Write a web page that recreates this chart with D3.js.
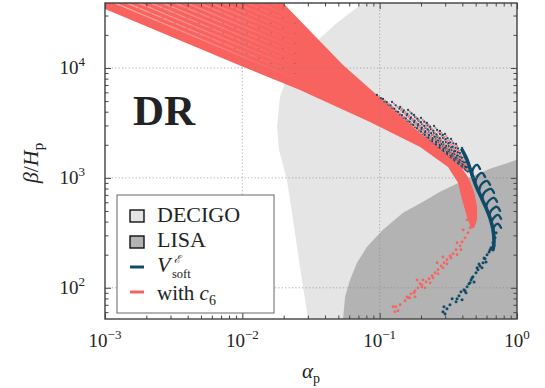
<!DOCTYPE html>
<html>
<head>
<meta charset="utf-8">
<script src="https://cdn.jsdelivr.net/npm/d3@7"></script>
<style>
  html, body { margin: 0; padding: 0; background: #fff; }
  svg { display: block; font-family: "Liberation Serif", "DejaVu Serif", serif; }
</style>
</head>
<body>
<svg id="chart" width="545" height="388"></svg>
<script>
// axis ticks
const alphaMajor = [1e-3, 1e-2, 1e-1, 1];
const alphaExp = ['\u22123', '\u22122', '\u22121', '0'];
const betaMajor = [1e2, 1e3, 1e4];
const betaExp = ['2', '3', '4'];

// detector sensitivity regions (alpha_p, beta/H_p)
const decigoRegion = [[0.085, 60000], [0.0782, 38970], [0.0720, 37400], [0.0489, 25600], [0.0311, 15500],
  [0.0222, 9590], [0.0188, 5450], [0.0179, 2910], [0.0185, 1800], [0.0198, 1310], [0.0211, 959],
  [0.0230, 481], [0.0250, 236], [0.0272, 118], [0.0301, 52], [0.031, 40], [2, 40], [2, 60000]];
const lisaRegion = [[0.053, 40], [0.0541, 52], [0.0560, 83], [0.0608, 118], [0.0684, 169], [0.0809, 236],
  [0.1057, 337], [0.148, 481], [0.207, 605], [0.275, 746], [0.433, 980], [0.635, 1208], [1.0, 1460],
  [2, 1950], [2, 40]];

// "with c6" fan of curves: outline of the dense band
const c6FanUpper = [[0.0008, 63100], [0.01367, 63100], [0.01977, 38970], [0.05408, 10650], [0.0956, 5683],
  [0.197, 2566], [0.309, 1688], [0.385, 1286], [0.440, 1021], [0.487, 746], [0.512, 545], [0.512, 415],
  [0.487, 351], [0.463, 344]];
const c6FanLower = [[0.433, 442], [0.398, 631], [0.372, 901], [0.3145, 1259], [0.197, 1913], [0.0850, 3229],
  [0.0263, 6310], [0.01, 10300], [0.001, 34390], [0.0008, 38970]];

// individual curves showing through the band near the top left
const stripeStarts = [[1.183e-3, 38970], [1.446e-3, 38970], [1.768e-3, 38970], [2.163e-3, 38970],
  [2.645e-3, 38970], [3.234e-3, 38970], [3.955e-3, 38970], [4.836e-3, 38970], [5.914e-3, 38970],
  [7.232e-3, 38970], [8.844e-3, 38970], [1.081e-2, 38970], [1.322e-2, 38970], [1.617e-2, 38970],
  [1.977e-2, 38970]];
const stripeEnds = [[0.0263, 7665], [0.0263, 8511], [0.0263, 9471], [0.0263, 10515], [0.0263, 11700],
  [0.0263, 12990], [0.0263, 14425], [0.0263, 16050], [0.0263, 17815], [0.0263, 19790], [0.0263, 22010],
  [0.0263, 24440], [0.0263, 27200], [0.0263, 30200], [0.0263, 33610]];

// sparse dotted curves above the band (start points, all running into the tip)
const dottedStarts = [[0.0956, 5683], [0.1057, 5227], [0.123, 4909], [0.141, 4421], [0.161, 4152],
  [0.178, 3739], [0.200, 3512], [0.221, 3162], [0.249, 2971], [0.275, 2676], [0.299, 2512],
  [0.331, 2262], [0.360, 2038], [0.398, 1874]];
const dottedEnd = [0.440, 1134];

// V_soft curves: main spine and hooks
const softSpine = [[0.398, 1797], [0.433, 1458], [0.463, 1134], [0.503, 846], [0.547, 672], [0.595, 534],
  [0.636, 433], [0.669, 337], [0.680, 262], [0.669, 222]];
const softHooks = [
  [[0.470, 1043], [0.478, 1207], [0.512, 1313], [0.538, 1207]],
  [[0.495, 882], [0.512, 1021], [0.556, 1110], [0.585, 1021]],
  [[0.529, 746], [0.547, 864], [0.605, 939], [0.636, 864]],
  [[0.556, 631], [0.575, 730], [0.647, 794], [0.680, 730]],
  [[0.595, 534], [0.615, 605], [0.680, 658], [0.716, 605]],
  [[0.626, 451], [0.647, 501], [0.716, 545], [0.752, 501]],
  [[0.647, 382], [0.669, 424], [0.728, 461], [0.765, 424]],
  [[0.669, 323], [0.680, 359], [0.728, 382], [0.765, 351]]
];

// scattered low-beta points
const softTail = [[0.692, 285], [0.669, 257], [0.647, 231], [0.626, 212], [0.605, 200], [0.585, 184],
  [0.566, 169], [0.538, 158], [0.520, 146], [0.503, 137], [0.478, 126], [0.463, 118], [0.447, 109],
  [0.433, 102], [0.411, 95.9], [0.391, 92.0], [0.378, 84.6], [0.366, 79.4], [0.398, 77.8], [0.360, 74.6],
  [0.325, 70.1], [0.309, 64.4], [0.294, 67.2], [0.289, 60.5], [0.299, 58.0], [0.595, 172], [0.556, 152],
  [0.487, 113], [0.425, 90.1], [0.337, 79.4], [0.704, 316], [0.680, 241], [0.636, 222], [0.575, 187],
  [0.529, 165], [0.512, 152], [0.470, 123], [0.455, 111], [0.418, 93.9]];
const c6Tail = [[0.455, 351], [0.440, 316], [0.418, 285], [0.398, 262], [0.385, 241], [0.360, 222],
  [0.342, 204], [0.325, 195], [0.309, 180], [0.294, 169], [0.280, 158], [0.266, 146], [0.253, 137],
  [0.241, 129], [0.229, 121], [0.218, 113], [0.203, 106], [0.190, 100], [0.181, 93.9], [0.169, 88.2],
  [0.161, 81.1], [0.153, 76.2], [0.141, 70.1], [0.131, 67.2], [0.136, 61.8], [0.129, 60.5], [0.366, 200],
  [0.309, 165], [0.266, 134], [0.233, 111], [0.203, 102], [0.178, 90.1], [0.166, 81.1], [0.391, 222],
  [0.331, 187], [0.289, 152], [0.245, 123], [0.214, 100], [0.181, 82.8], [0.197, 109], [0.125, 67.2],
  [0.158, 82.8], [0.187, 118], [0.207, 118], [0.262, 169], [0.289, 191], [0.366, 257], [0.405, 337],
  [0.433, 415]];

const NAVY = '#0f4a68';
const PINK = '#f8625f';
const LIGHT = '#e5e5e5';
const DARK = '#b3b3b3';

const svg = d3.select('#chart');
const pL = 105, pR = 517, pT = 3, pB = 319;

const x = d3.scaleLog().domain([1e-3, 1]).range([pL, pR]);
const y = d3.scaleLog().domain([52, 39000]).range([pB, pT]);
const line = d3.line().x(d => x(d[0])).y(d => y(d[1]));
const fanPath = line(c6FanUpper.concat(c6FanLower)) + 'Z';

const defs = svg.append('defs');
defs.append('clipPath').attr('id', 'plot-clip')
  .append('rect').attr('x', pL).attr('y', pT).attr('width', pR - pL).attr('height', pB - pT);
defs.append('clipPath').attr('id', 'fan-clip').append('path').attr('d', fanPath);
const fade = defs.append('linearGradient').attr('id', 'stripe-fade')
  .attr('gradientUnits', 'userSpaceOnUse')
  .attr('x1', x(1e-3)).attr('x2', x(0.0263)).attr('y1', 0).attr('y2', 0);
fade.append('stop').attr('offset', 0).attr('stop-color', '#ffc2bd').attr('stop-opacity', 0.75);
fade.append('stop').attr('offset', 1).attr('stop-color', '#ffc2bd').attr('stop-opacity', 0);

const plot = svg.append('g').attr('clip-path', 'url(#plot-clip)');

// regions
plot.append('path').attr('d', line(decigoRegion) + 'Z').attr('fill', LIGHT);
plot.append('path').attr('d', line(lisaRegion) + 'Z').attr('fill', DARK);

// dense c6 band
plot.append('path').attr('d', fanPath).attr('fill', PINK);

// faint texture of the single curves inside the band
const stripes = plot.append('g').attr('clip-path', 'url(#fan-clip)');
stripeStarts.forEach((s, i) => {
  stripes.append('path').attr('d', line([s, stripeEnds[i]])).attr('fill', 'none')
    .attr('stroke', 'url(#stripe-fade)').attr('stroke-width', 1.3);
  if (i % 2 === 1) {
    stripes.append('path').attr('d', line([s, stripeEnds[i]])).attr('fill', 'none')
      .attr('stroke', NAVY).attr('stroke-opacity', 0.45).attr('stroke-width', 1.2)
      .attr('stroke-linecap', 'round').attr('stroke-dasharray', '0,13');
  }
});

// dotted curves (alternating navy / pink dots)
dottedStarts.forEach(s => {
  const d = line([s, dottedEnd]);
  plot.append('path').attr('d', d).attr('fill', 'none').attr('stroke', '#f57a76')
    .attr('stroke-width', 2.2).attr('stroke-linecap', 'round').attr('stroke-dasharray', '0,5')
    .attr('stroke-dashoffset', 2.5);
  plot.append('path').attr('d', d).attr('fill', 'none').attr('stroke', NAVY)
    .attr('stroke-width', 2.3).attr('stroke-linecap', 'round').attr('stroke-dasharray', '0,5');
});

// V_soft spine and hooks
const curve = d3.line().x(d => x(d[0])).y(d => y(d[1])).curve(d3.curveCatmullRom);
plot.append('path').attr('d', curve(softSpine)).attr('fill', 'none')
  .attr('stroke', NAVY).attr('stroke-width', 3.6).attr('stroke-linecap', 'round');
softHooks.forEach(h => {
  plot.append('path').attr('d', curve(h)).attr('fill', 'none')
    .attr('stroke', NAVY).attr('stroke-width', 2.4).attr('stroke-linecap', 'round');
});

// scattered tails
plot.selectAll('.c6dot').data(c6Tail).enter().append('circle')
  .attr('class', 'c6dot').attr('cx', d => x(d[0])).attr('cy', d => y(d[1])).attr('r', 1.4)
  .attr('fill', PINK);
plot.selectAll('.softdot').data(softTail).enter().append('circle')
  .attr('class', 'softdot').attr('cx', d => x(d[0])).attr('cy', d => y(d[1])).attr('r', 1.5)
  .attr('fill', NAVY);

// grid
const grid = svg.append('g').attr('stroke', '#8a8a8a').attr('stroke-width', 0.8)
  .attr('stroke-dasharray', '1.2,2.2').attr('opacity', 0.85);
alphaMajor.slice(1, -1).forEach(v => {
  grid.append('line').attr('x1', x(v)).attr('x2', x(v)).attr('y1', pT).attr('y2', pB);
});
betaMajor.forEach(v => {
  grid.append('line').attr('x1', pL).attr('x2', pR).attr('y1', y(v)).attr('y2', y(v));
});

// ticks on all four sides, pointing inward
const isMajor = v => Math.abs(Math.log10(v) - Math.round(Math.log10(v))) < 1e-6;
const xMinor = x.ticks().filter(v => !isMajor(v));
const yMinor = y.ticks().filter(v => !isMajor(v));

function styleAxis(g) {
  g.select('.domain').remove();
  g.selectAll('.tick line').attr('stroke', '#444').attr('stroke-width', 1);
  g.selectAll('.tick text').remove();
}
[[xMinor, 3.5], [alphaMajor, 6]].forEach(([vals, len]) => {
  svg.append('g').attr('transform', `translate(0,${pB})`)
    .call(d3.axisBottom(x).tickValues(vals).tickSize(-len).tickFormat('')).call(styleAxis);
  svg.append('g').attr('transform', `translate(0,${pT})`)
    .call(d3.axisTop(x).tickValues(vals).tickSize(-len).tickFormat('')).call(styleAxis);
});
[[yMinor, 3.5], [betaMajor, 6]].forEach(([vals, len]) => {
  svg.append('g').attr('transform', `translate(${pL},0)`)
    .call(d3.axisLeft(y).tickValues(vals).tickSize(-len).tickFormat('')).call(styleAxis);
  svg.append('g').attr('transform', `translate(${pR},0)`)
    .call(d3.axisRight(y).tickValues(vals).tickSize(-len).tickFormat('')).call(styleAxis);
});

// frame
svg.append('rect').attr('x', pL).attr('y', pT).attr('width', pR - pL).attr('height', pB - pT)
  .attr('fill', 'none').attr('stroke', '#404040').attr('stroke-width', 1.4);

// tick labels
alphaMajor.forEach((v, i) => {
  const t = svg.append('text').attr('x', x(v)).attr('y', 347).attr('text-anchor', 'middle')
    .attr('font-size', 19).attr('fill', '#222');
  t.append('tspan').text('10');
  t.append('tspan').attr('dy', -8).attr('font-size', 13).text(alphaExp[i]);
});
betaMajor.forEach((v, i) => {
  const t = svg.append('text').attr('x', 85).attr('y', y(v) + 6).attr('text-anchor', 'end')
    .attr('font-size', 19).attr('fill', '#222');
  t.append('tspan').text('10');
  t.append('tspan').attr('dy', -8).attr('font-size', 13).text(betaExp[i]);
});

// axis titles
const xt = svg.append('text').attr('x', 311).attr('y', 378).attr('text-anchor', 'middle')
  .attr('font-size', 21).attr('fill', '#222');
xt.append('tspan').attr('font-style', 'italic').text('\u03b1');
xt.append('tspan').attr('dy', 5).attr('font-size', 14).text('p');

const yt = svg.append('text').attr('transform', 'translate(38,163) rotate(-90)')
  .attr('text-anchor', 'middle').attr('font-size', 22).attr('fill', '#222');
yt.append('tspan').attr('font-style', 'italic').text('\u03b2');
yt.append('tspan').text('/');
yt.append('tspan').attr('font-style', 'italic').text('H');
yt.append('tspan').attr('dy', 5).attr('font-size', 15).text('p');

// panel tag
svg.append('text').attr('x', 133).attr('y', 125).attr('font-size', 43).attr('font-weight', 'bold')
  .attr('fill', '#222').text('DR');

// legend
const lg = svg.append('g');
lg.append('rect').attr('x', 117).attr('y', 195).attr('width', 157).attr('height', 118)
  .attr('fill', '#fff').attr('stroke', '#666').attr('stroke-width', 1);
lg.append('rect').attr('x', 130).attr('y', 210).attr('width', 14).attr('height', 12)
  .attr('fill', LIGHT).attr('stroke', '#111').attr('stroke-width', 1.4);
lg.append('rect').attr('x', 130).attr('y', 236).attr('width', 14).attr('height', 12)
  .attr('fill', DARK).attr('stroke', '#111').attr('stroke-width', 1.4);
lg.append('line').attr('x1', 130).attr('x2', 144).attr('y1', 267).attr('y2', 267)
  .attr('stroke', NAVY).attr('stroke-width', 3);
lg.append('line').attr('x1', 130).attr('x2', 144).attr('y1', 292).attr('y2', 292)
  .attr('stroke', PINK).attr('stroke-width', 3);

const lt = (yy, fs) => lg.append('text').attr('x', 157).attr('y', yy).attr('font-size', fs).attr('fill', '#222');
lt(222, 22).text('DECIGO');
lt(247, 22).text('LISA');
lt(272, 22).attr('font-style', 'italic').text('V');
lg.append('text').attr('x', 174).attr('y', 263).attr('font-size', 11).attr('font-style', 'italic')
  .attr('fill', '#222').text('\u2130');
lg.append('text').attr('x', 172).attr('y', 278).attr('font-size', 12.5).attr('fill', '#222').text('soft');
const c6 = lt(300, 21);
c6.append('tspan').text('with ');
c6.append('tspan').attr('font-style', 'italic').text('c');
c6.append('tspan').attr('dy', 5).attr('font-size', 14).text('6');
</script>
</body>
</html>
